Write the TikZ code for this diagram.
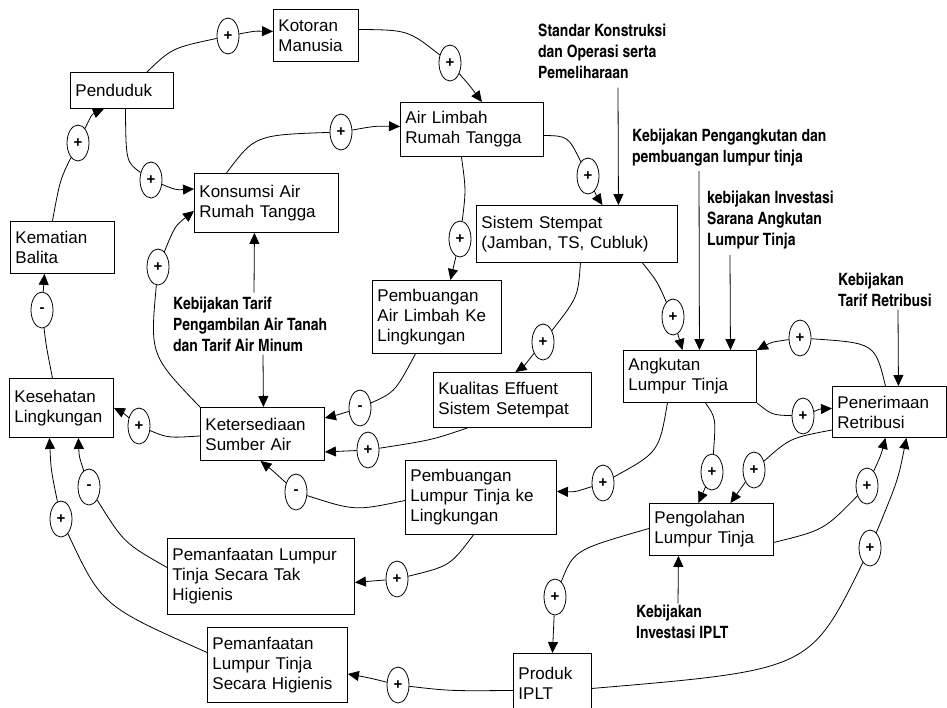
\documentclass[tikz,border=0pt]{standalone}
\usepackage{fontspec}
\setmainfont{Liberation Sans}
\newfontfamily\condbf{texgyreheroscn-bold.otf}
\usetikzlibrary{shapes.geometric,arrows.meta}
\begin{document}
\begin{tikzpicture}[x=1pt,y=-1pt,
	box/.style={draw,line width=0.9pt,anchor=north west,align=left,inner xsep=5pt,inner ysep=2pt,font=\fontsize{17}{20}\selectfont},
	pol/.style={anchor=north west,align=left,inner sep=0pt,font=\condbf\fontsize{17}{21}\selectfont},
	sgn/.style={draw,ellipse,minimum width=22pt,minimum height=36pt,inner sep=0pt,line width=0.8pt,font=\bfseries\fontsize{15}{15}\selectfont},
	arr/.style={-{Triangle[length=11pt,width=10pt]},line width=0.8pt}]
	\useasboundingbox (0,0) rectangle (947,707);
	\node[box,text width=75pt,minimum height=52pt,name=Kot] at (273,9) {Kotoran\\Manusia};
	\node[box,text width=93pt,minimum height=36pt,name=Pen] at (70,72) {Penduduk};
	\node[box,text width=133pt,minimum height=54pt,name=ALR] at (400,102) {Air Limbah\\Rumah Tangga};
	\node[box,text width=134pt,minimum height=59pt,name=Kon] at (194,173) {Konsumsi Air\\Rumah Tangga};
	\node[box,text width=94pt,minimum height=52pt,name=Kem] at (10,221) {Kematian\\Balita};
	\node[box,text width=119pt,minimum height=73pt,name=PAL] at (372,280) {Pembuangan\\Air Limbah Ke\\Lingkungan};
	\node[box,text width=191pt,minimum height=57pt,name=Sis] at (476,205) {Sistem Stempat\\(Jamban, TS, Cubluk)};
	\node[box,text width=148pt,minimum height=55pt,name=Kua] at (433,372) {Kualitas Effuent\\Sistem Setempat};
	\node[box,text width=123pt,minimum height=52pt,name=Ang] at (623,350) {Angkutan\\Lumpur Tinja};
	\node[box,text width=104pt,minimum height=51pt,name=Pnr] at (832,386) {Penerimaan\\Retribusi};
	\node[box,text width=114pt,minimum height=52pt,name=Pgl] at (649,503) {Pengolahan\\Lumpur Tinja};
	\node[box,text width=68pt,minimum height=59pt,name=Pro] at (513,653) {Produk\\IPLT};
	\node[box,text width=94pt,minimum height=59pt,name=Kes] at (9,378) {Kesehatan\\Lingkungan};
	\node[box,text width=114pt,minimum height=53pt,name=Ket] at (200,407) {Ketersediaan\\Sumber Air};
	\node[box,text width=141pt,minimum height=74pt,name=PLT] at (405,460) {Pembuangan\\Lumpur Tinja ke\\Lingkungan};
	\node[box,text width=177pt,minimum height=76pt,name=PTH] at (167,538) {Pemanfaatan Lumpur\\Tinja Secara Tak\\Higienis};
	\node[box,text width=130pt,minimum height=75pt,name=PH] at (207,627) {Pemanfaatan\\Lumpur Tinja\\Secara Higienis};
	\node[pol,name=Std] at (538,23.5) {Standar Konstruksi\\dan Operasi serta\\Pemeliharaan};
	\node[pol,name=KPa] at (632,128.5) {Kebijakan Pengangkutan dan\\pembuangan lumpur tinja};
	\node[pol,name=KIs] at (707,190.5) {kebijakan Investasi\\Sarana Angkutan\\Lumpur Tinja};
	\node[pol,name=KTr] at (838,272.5) {Kebijakan\\Tarif Retribusi};
	\node[pol,name=KIp] at (636,604.5) {Kebijakan\\Investasi IPLT};
	\node[pol,name=KTa] at (173,296.5) {Kebijakan Tarif\\Pengambilan Air Tanah\\dan Tarif Air Minum};
	\foreach \n/\x/\y/\s in {s1/228/36/+,s2/450/63/+,s3/151/180/+,s4/341/132/+,s5/78/143/+,s6/42/310/-,
		s7/139/426/+,s8/158/267/+,s9/460/239/+,s10/360/408/-,s11/588/176/+,s12/543/342/+,s13/368/450/+,
		s14/673/317/+,s15/800/338/+,s16/803/416/+,s17/603/483/+,s18/296/492/-,s19/397/579/+,s20/89/487/-,
		s21/61/519/+,s22/398/685/+,s23/712/472/+,s24/754/470/+,s25/867/486/+,s26/870/548/+,s27/555/597/+}{
		\node[sgn,name=\n] at (\x,\y) {\s};
	}
	\draw[arr] ([xshift=25pt]Pen.north) .. controls (172,48) .. (s1) (s1) .. controls (255,31) .. ([yshift=4pt]Kot.west);
	\draw[arr] ([yshift=6pt]Kot.east) .. controls (408,30) .. (s2) (s2) .. controls (470,86) .. ([xshift=10pt]ALR.north);
	\draw[arr] ([xshift=3.5pt]Pen.south) .. controls (126,162) .. (s3) (s3) .. controls (176,190) .. ([yshift=14pt]Kon.west);
	\draw[arr] ([xshift=-40pt]Kon.north) .. controls (255,135) .. (s4) (s4) .. controls (375,126) .. ([yshift=3pt]ALR.west);
	\draw[arr] ([xshift=-10pt]Kem.north) .. controls (60,180) .. (s5) (s5) .. controls (92,114) .. ([xshift=-18pt]Pen.south);
	\draw[arr] ([xshift=-9pt]Kes.north) .. controls (46,345) .. (s6) (s6) -- ([xshift=-18pt]Kem.south);
	\draw[arr] ([yshift=-2pt]Ket.west) .. controls (168,438) .. (s7) (s7) .. controls (122,412) .. (Kes.east);
	\draw[arr] (Ket.north west) .. controls (150,355) .. (s8) (s8) .. controls (175,226) .. ([yshift=-8pt]Kon.west);
	\draw[arr] ([xshift=-10.5pt]ALR.south) .. controls (466,190) .. (s9) (s9) -- ([xshift=13.5pt]PAL.north);
	\draw[arr] ([xshift=-21.5pt]PAL.south) .. controls (395,392) .. (s10) (s10) .. controls (337,415) .. ([yshift=16pt]Ket.east);
	\draw[arr] ([yshift=-6pt]ALR.east) .. controls (568,136) .. (s11) (s11) .. controls (597,197) .. ([xshift=25.5pt]Sis.north);
	\draw[arr] ([xshift=3.5pt]Sis.south) .. controls (578,297) .. (s12) (s12) .. controls (524,366) .. ([xshift=3pt]Kua.north);
	\draw[arr] ([xshift=-45pt]Kua.south) .. controls (432,440) .. (s13) (s13) -- ([yshift=-18pt]Ket.east);
	\draw[arr] ([xshift=65.5pt]Sis.south) .. controls (657,281) .. (s14) (s14) -- ([xshift=-7.5pt]Ang.north);
	\draw[arr] ([xshift=-4pt]Pnr.north) .. controls (875,343) .. (s15) (s15) .. controls (772,342) .. (Ang.north east);
	\draw[arr] (Ang.south east) .. controls (772,415) .. (s16) (s16) .. controls (820,409) .. ([yshift=3.5pt]Pnr.west);
	\draw[arr] ([xshift=-22.5pt]Ang.south) .. controls (659,452) .. (s17) (s17) .. controls (575,492) .. ([yshift=6pt]PLT.east);
	\draw[arr] ([yshift=-3pt]PLT.west) .. controls (355,511) .. (s18) (s18) .. controls (272,470) .. ([xshift=-2pt]Ket.south);
	\draw[arr] ([xshift=-7.5pt]PLT.south) .. controls (450,566) .. (s19) (s19) -- ([yshift=-6pt]PTH.east);
	\draw[arr] ([yshift=9pt]PTH.west) .. controls (124,543) .. (s20) (s20) .. controls (79,456) .. ([xshift=17pt]Kes.south);
	\draw[arr] ([yshift=12.5pt]PH.west) .. controls (102,606) .. (s21) (s21) .. controls (51,470) .. ([xshift=-12pt]Kes.south);
	\draw[arr] ([yshift=-7.5pt]Pro.west) .. controls (450,691) .. (s22) (s22) .. controls (370,678) .. ([yshift=-9pt]PH.east);
	\draw[arr] ([xshift=15.5pt]Ang.south) .. controls (716,418) .. (s23) (s23) -- ([xshift=-13pt]Pgl.north);
	\draw[arr] ([yshift=-18pt]Pnr.west) .. controls (790,438) .. (s24) (s24) -- ([xshift=19pt]Pgl.north);
	\draw[arr] ([yshift=-13pt]Pgl.east) .. controls (824,530) .. (s25) (s25) .. controls (881,455) .. ([xshift=-4pt]Pnr.south);
	\draw[arr] ([yshift=-5.5pt]Pro.east) .. controls (810,670) .. (s26) (s26) .. controls (898,480) .. ([xshift=17pt]Pnr.south);
	\draw[arr] ([yshift=1pt]Pgl.west) .. controls (574,550) .. (s27) (s27) -- (Pro.north);
	\draw[arr] ([xshift=80pt,yshift=-9pt]Std.south west) -- ([xshift=41.5pt]Sis.north);
	\draw[arr] ([xshift=67pt,yshift=-5pt]KPa.south west) -- ([xshift=9.5pt]Ang.north);
	\draw[arr] ([xshift=23pt,yshift=-6pt]KIs.south west) -- ([xshift=40.5pt]Ang.north);
	\draw[arr] ([xshift=60pt,yshift=-3pt]KTr.south west) -- ([xshift=9pt]Pnr.north);
	\draw[arr] ([xshift=42pt,yshift=1pt]KIp.north west) -- ([xshift=-33pt]Pgl.south);
	\draw[arr] ([xshift=81pt,yshift=4pt]KTa.north west) -- ([xshift=-12pt]Kon.south);
	\draw[arr] ([xshift=90pt,yshift=-3pt]KTa.south west) -- ([xshift=1pt]Ket.north);
\end{tikzpicture}
\end{document}
